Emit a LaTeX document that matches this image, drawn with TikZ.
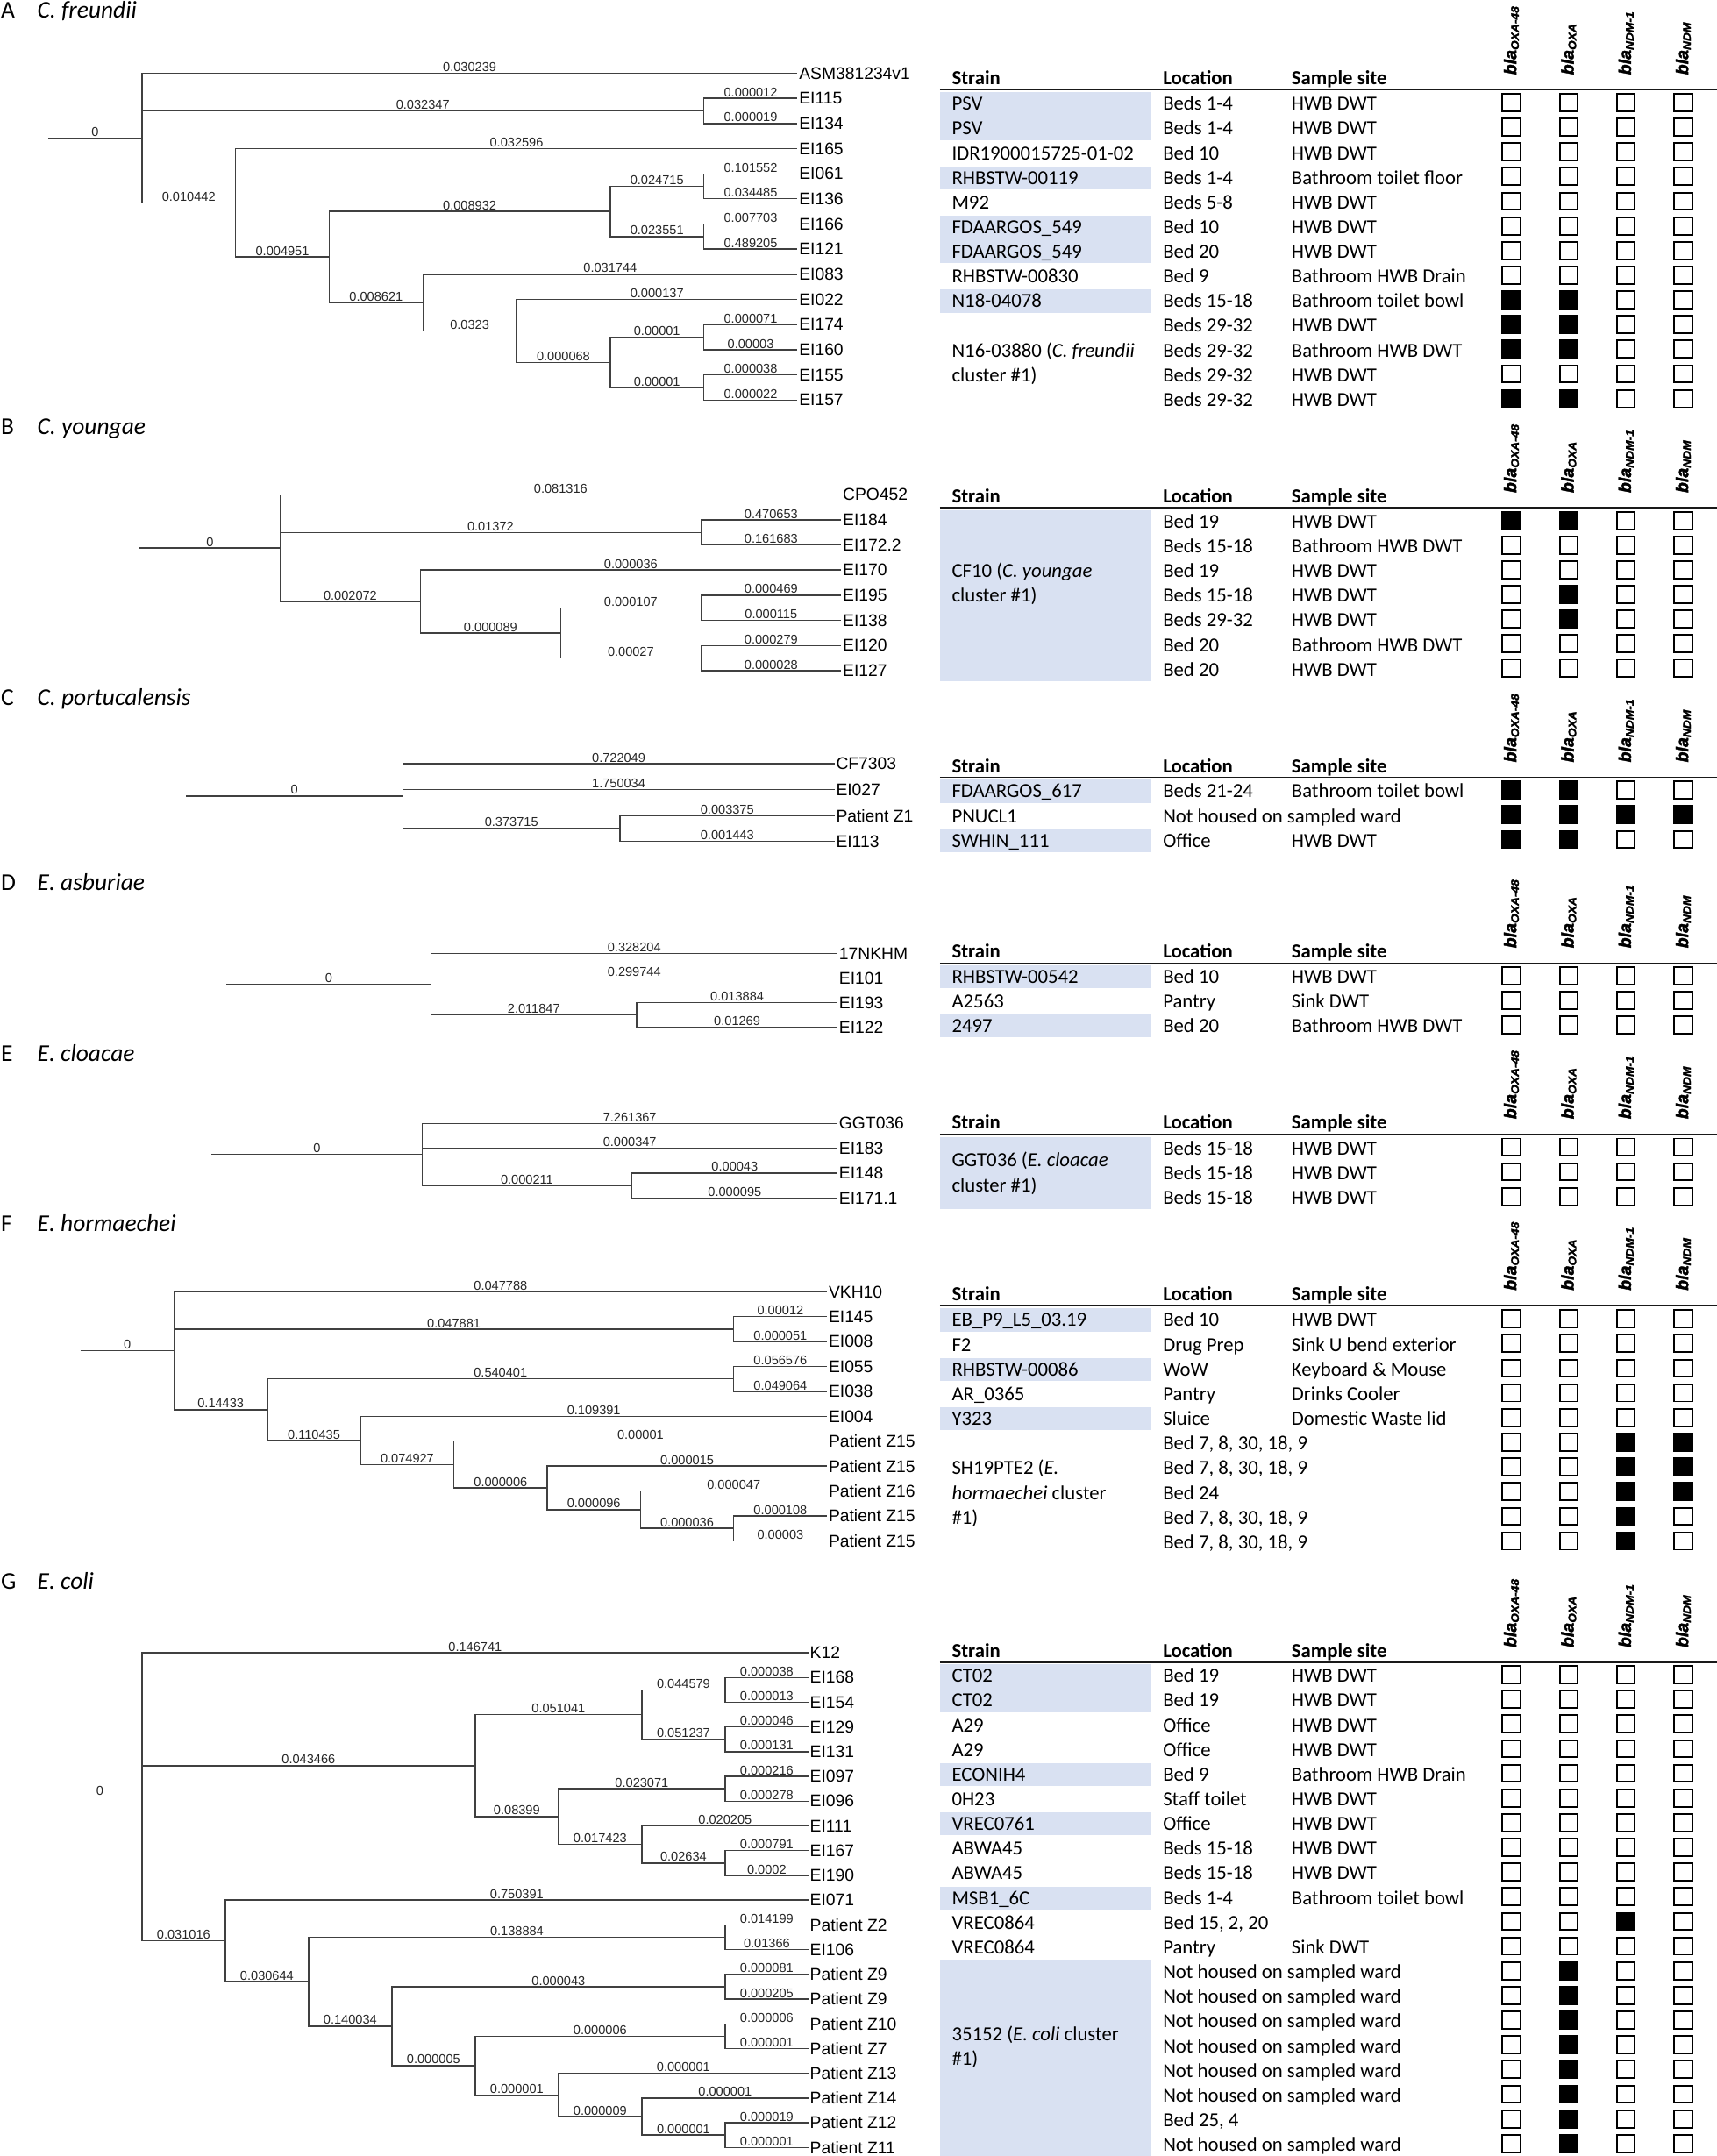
\documentclass[tikz,border=0pt]{standalone}
\usepackage{fontspec}
\setmainfont{Carlito}
\newfontfamily\treefont{Liberation Sans}
\newfontfamily\blafont{Liberation Sans}[BoldItalicFeatures={FakeBold=2}]
\usetikzlibrary{calc}
\definecolor{shadeblue}{RGB}{217,225,242}
\colorlet{c0}{white}
\colorlet{c1}{black}
\tikzset{
  br/.style={draw=black!75, line width=0.9pt},
  blab/.style={font=\treefont\fontsize{9.3}{9.3}\selectfont, text=black!85, inner sep=0.7pt, anchor=south},
  leaf/.style={font=\treefont\fontsize{12.3}{13}\selectfont, anchor=west, inner sep=1pt},
  ttext/.style={font=\fontsize{14.5}{15}\selectfont, anchor=base west, inner sep=0pt},
  thdr/.style={font=\bfseries\fontsize{14.5}{15}\selectfont, anchor=base west, inner sep=0pt},
  cbox/.style={draw=black, line width=1.25pt, minimum width=13pt, minimum height=12.6pt, inner sep=0pt},
  hrule/.style={draw=black!90, line width=1pt},
  blahd/.style={rotate=90, anchor=base west, inner sep=0pt, font=\blafont\bfseries\itshape},
  ptitle/.style={anchor=base west, inner sep=0pt, font=\fontsize{17.5}{18}\selectfont},
}
\newcommand\bla[1]{{\fontsize{12.5}{13}\selectfont bla}{\fontsize{8}{9}\selectfont\raisebox{-1.8pt}{\scalebox{1.1}[1]{#1}}}}
\newcommand\tedge[3]{\draw[br] (#1) |- (#2) node[blab,pos=0.75]{#3};}
\newcommand\lf[4]{\node[leaf] (#1) at (#2,#3) {#4};}
\newcommand\trow[6]{%
  \node[ttext] (#1s) at (692,#2+4.7) {#3};
  \node[ttext] (#1l) at (845.5,#2+4.7) {#4};
  \node[ttext] (#1t) at (939,#2+4.7) {#5};
  \foreach \f [count=\c] in {#6} {\node[cbox,fill=c\f] (#1b\c) at ({1099+41.67*(\c-1)},#2-0.9) {};}
}
\newcommand\thead[2]{%
  \node[thdr] (#1hs) at (692,#2-3.5) {Strain};
  \node[thdr] (#1hl) at (845.5,#2-3.5) {Location};
  \node[thdr] (#1ht) at (939,#2-3.5) {Sample site};
  \coordinate (#1ul) at (683.5,#2);
  \coordinate (#1ur) at (1248.5,#2);
  \draw[hrule] (#1ul) -- (#1ur);
  \node[blahd] (#1h1) at (1102.6,#2-10.7) {\bla{OXA-48}};
  \node[blahd] (#1h2) at (1144.3,#2-10.7) {\bla{OXA}};
  \node[blahd] (#1h3) at (1186,#2-10.7) {\bla{NDM-1}};
  \node[blahd] (#1h4) at (1227.6,#2-10.7) {\bla{NDM}};
}
\newcommand\shd[2]{\fill[shadeblue] (683.5,#1-8.4) rectangle (837,#2+8.4);}

\begin{document}
\begin{tikzpicture}[x=1pt,y=-1pt]
\useasboundingbox (0,0) rectangle (1248.5,1568);
\fill[white] (0,0) rectangle (1248.5,1568);

% ---------------- titles
\node[ptitle] (tA) at (0.5,13) {A};   \node[ptitle] (tAs) at (27,13) {\itshape C. freundii};
\node[ptitle] (tB) at (0.5,316) {B};  \node[ptitle] (tBs) at (27,316) {\itshape C. youngae};
\node[ptitle] (tC) at (0.5,512.7) {C};  \node[ptitle] (tCs) at (27,512.7) {\itshape C. portucalensis};
\node[ptitle] (tD) at (0.5,647.3) {D};  \node[ptitle] (tDs) at (27,647.3) {\itshape E. asburiae};
\node[ptitle] (tE) at (0.5,771.8) {E};  \node[ptitle] (tEs) at (27,771.8) {\itshape E. cloacae};
\node[ptitle] (tF) at (0.5,895.5) {F};  \node[ptitle] (tFs) at (27,895.5) {\itshape E. hormaechei};
\node[ptitle] (tG) at (0.5,1156) {G};   \node[ptitle] (tGs) at (27,1156) {\itshape E. coli};

% ---------------- tree A
\coordinate (aS) at (35,100.35);
\coordinate (aR) at (103.2,100.35);
\coordinate (a1) at (511.8,80.65);
\coordinate (a2) at (171.3,147.5);
\coordinate (a3) at (239.4,186.95);
\coordinate (a4) at (443.7,153.8);
\coordinate (a5) at (511.8,135.5);
\coordinate (a6) at (511.8,172.05);
\coordinate (a7) at (307.5,220.1);
\coordinate (a8) at (375.6,240.7);
\coordinate (a9) at (443.7,263.55);
\coordinate (a10) at (511.8,245.25);
\coordinate (a11) at (511.8,281.85);
\lf{aL0}{579.9}{53.2}{ASM381234v1}
\lf{aL1}{579.9}{71.5}{EI115}
\lf{aL2}{579.9}{89.8}{EI134}
\lf{aL3}{579.9}{108.1}{EI165}
\lf{aL4}{579.9}{126.4}{EI061}
\lf{aL5}{579.9}{144.6}{EI136}
\lf{aL6}{579.9}{162.9}{EI166}
\lf{aL7}{579.9}{181.2}{EI121}
\lf{aL8}{579.9}{199.5}{EI083}
\lf{aL9}{579.9}{217.8}{EI022}
\lf{aL10}{579.9}{236.1}{EI174}
\lf{aL11}{579.9}{254.4}{EI160}
\lf{aL12}{579.9}{272.7}{EI155}
\lf{aL13}{579.9}{291.0}{EI157}
\draw[br] (aS) -- (aR) node[blab,midway]{0};
\tedge{aR}{aL0.west}{0.030239}
\tedge{aR}{a1}{0.032347}
\tedge{a1}{aL1.west}{0.000012}
\tedge{a1}{aL2.west}{0.000019}
\tedge{aR}{a2}{0.010442}
\tedge{a2}{aL3.west}{0.032596}
\tedge{a2}{a3}{0.004951}
\tedge{a3}{a4}{0.008932}
\tedge{a4}{a5}{0.024715}
\tedge{a5}{aL4.west}{0.101552}
\tedge{a5}{aL5.west}{0.034485}
\tedge{a4}{a6}{0.023551}
\tedge{a6}{aL6.west}{0.007703}
\tedge{a6}{aL7.west}{0.489205}
\tedge{a3}{a7}{0.008621}
\tedge{a7}{aL8.west}{0.031744}
\tedge{a7}{a8}{0.0323}
\tedge{a8}{aL9.west}{0.000137}
\tedge{a8}{a9}{0.000068}
\tedge{a9}{a10}{0.00001}
\tedge{a10}{aL10.west}{0.000071}
\tedge{a10}{aL11.west}{0.00003}
\tedge{a9}{a11}{0.00001}
\tedge{a11}{aL12.west}{0.000038}
\tedge{a11}{aL13.west}{0.000022}

% ---------------- tree B
\coordinate (bS) at (101.7,398.65);
\coordinate (bR) at (203.7,398.65);
\coordinate (b1) at (509.7,387.25);
\coordinate (b2) at (305.7,437.5);
\coordinate (b3) at (407.7,460.35);
\coordinate (b4) at (509.7,442.05);
\coordinate (b5) at (509.7,478.65);
\lf{bL0}{611.7}{359.8}{CPO452}
\lf{bL1}{611.7}{378.1}{EI184}
\lf{bL2}{611.7}{396.4}{EI172.2}
\lf{bL3}{611.7}{414.6}{EI170}
\lf{bL4}{611.7}{432.9}{EI195}
\lf{bL5}{611.7}{451.2}{EI138}
\lf{bL6}{611.7}{469.5}{EI120}
\lf{bL7}{611.7}{487.8}{EI127}
\draw[br] (bS) -- (bR) node[blab,midway]{0};
\tedge{bR}{bL0.west}{0.081316}
\tedge{bR}{b1}{0.01372}
\tedge{b1}{bL1.west}{0.470653}
\tedge{b1}{bL2.west}{0.161683}
\tedge{bR}{b2}{0.002072}
\tedge{b2}{bL3.west}{0.000036}
\tedge{b2}{b3}{0.000089}
\tedge{b3}{b4}{0.000107}
\tedge{b4}{bL4.west}{0.000469}
\tedge{b4}{bL5.west}{0.000115}
\tedge{b3}{b5}{0.00027}
\tedge{b5}{bL6.west}{0.000279}
\tedge{b5}{bL7.west}{0.000028}

% ---------------- tree C
\coordinate (cS) at (135.2,578.95);
\coordinate (cR) at (293,578.95);
\coordinate (c1) at (450.8,602.5);
\lf{cL0}{606.8}{555.4}{CF7303}
\lf{cL1}{606.8}{574.2}{EI027}
\lf{cL2}{606.8}{593.1}{Patient Z1}
\lf{cL3}{606.8}{611.9}{EI113}
\draw[br] (cS) -- (cR) node[blab,midway]{0};
\tedge{cR}{cL0.west}{0.722049}
\tedge{cR}{cL1.west}{1.750034}
\tedge{cR}{c1}{0.373715}
\tedge{c1}{cL2.west}{0.003375}
\tedge{c1}{cL3.west}{0.001443}

% ---------------- tree D
\coordinate (dS) at (164.7,715.9);
\coordinate (dR) at (313.4,715.9);
\coordinate (d1) at (463,738.25);
\lf{dL0}{609}{693.6}{17NKHM}
\lf{dL1}{609}{711.4}{EI101}
\lf{dL2}{609}{729.3}{EI193}
\lf{dL3}{609}{747.2}{EI122}
\draw[br] (dS) -- (dR) node[blab,midway]{0};
\tedge{dR}{dL0.west}{0.328204}
\tedge{dR}{dL1.west}{0.299744}
\tedge{dR}{d1}{2.011847}
\tedge{d1}{dL2.west}{0.013884}
\tedge{d1}{dL3.west}{0.01269}

% ---------------- tree E
\coordinate (eS) at (153.9,839.6);
\coordinate (eR) at (306.9,839.6);
\coordinate (e1) at (459.5,862.2);
\lf{eL0}{609}{817}{GGT036}
\lf{eL1}{609}{835.2}{EI183}
\lf{eL2}{609}{853.1}{EI148}
\lf{eL3}{609}{871.3}{EI171.1}
\draw[br] (eS) -- (eR) node[blab,midway]{0};
\tedge{eR}{eL0.west}{7.261367}
\tedge{eR}{eL1.west}{0.000347}
\tedge{eR}{e1}{0.000211}
\tedge{e1}{eL2.west}{0.00043}
\tedge{e1}{eL3.west}{0.000095}

% ---------------- tree F
\coordinate (fS) at (58.5,982.4);
\coordinate (fR) at (126.6,982.4);
\coordinate (f1) at (533.5,966.65);
\coordinate (f2) at (194.4,1025.25);
\coordinate (f3) at (533.5,1002.85);
\coordinate (f4) at (262.2,1047.64);
\coordinate (f5) at (330.1,1065.17);
\coordinate (f6) at (397.9,1082.14);
\coordinate (f7) at (465.7,1097.98);
\coordinate (f8) at (533.5,1111.55);
\lf{fL0}{601.4}{939.5}{VKH10}
\lf{fL1}{601.4}{957.61}{EI145}
\lf{fL2}{601.4}{975.72}{EI008}
\lf{fL3}{601.4}{993.83}{EI055}
\lf{fL4}{601.4}{1011.94}{EI038}
\lf{fL5}{601.4}{1030.05}{EI004}
\lf{fL6}{601.4}{1048.16}{Patient Z15}
\lf{fL7}{601.4}{1066.27}{Patient Z15}
\lf{fL8}{601.4}{1084.38}{Patient Z16}
\lf{fL9}{601.4}{1102.49}{Patient Z15}
\lf{fL10}{601.4}{1120.6}{Patient Z15}
\draw[br] (fS) -- (fR) node[blab,midway]{0};
\tedge{fR}{fL0.west}{0.047788}
\tedge{fR}{f1}{0.047881}
\tedge{f1}{fL1.west}{0.00012}
\tedge{f1}{fL2.west}{0.000051}
\tedge{fR}{f2}{0.14433}
\tedge{f2}{f3}{0.540401}
\tedge{f3}{fL3.west}{0.056576}
\tedge{f3}{fL4.west}{0.049064}
\tedge{f2}{f4}{0.110435}
\tedge{f4}{fL5.west}{0.109391}
\tedge{f4}{f5}{0.074927}
\tedge{f5}{fL6.west}{0.00001}
\tedge{f5}{f6}{0.000006}
\tedge{f6}{fL7.west}{0.000015}
\tedge{f6}{f7}{0.000096}
\tedge{f7}{fL8.west}{0.000047}
\tedge{f7}{f8}{0.000036}
\tedge{f8}{fL9.west}{0.000108}
\tedge{f8}{fL10.west}{0.00003}

% ---------------- tree G
\coordinate (gS) at (42,1306.8);
\coordinate (gR) at (103.2,1306.8);
\coordinate (g1) at (345.5,1284.1);
\coordinate (g2) at (466.7,1247.0);
\coordinate (g3) at (527.3,1229.0);
\coordinate (g4) at (527.3,1265.0);
\coordinate (g5) at (406.1,1321.15);
\coordinate (g6) at (527.3,1300.9);
\coordinate (g7) at (466.7,1341.4);
\coordinate (g8) at (527.3,1354.9);
\coordinate (g9) at (163.8,1411.55);
\coordinate (g10) at (224.4,1441.2);
\coordinate (g11) at (527.3,1408.9);
\coordinate (g12) at (284.9,1473.55);
\coordinate (g13) at (527.3,1444.9);
\coordinate (g14) at (345.5,1502.2);
\coordinate (g15) at (527.3,1480.85);
\coordinate (g16) at (406.1,1523.55);
\coordinate (g17) at (466.7,1539.3);
\coordinate (g18) at (527.3,1552.8);
\lf{gL0}{587.8}{1202}{K12}
\lf{gL1}{587.8}{1219.99}{EI168}
\lf{gL2}{587.8}{1237.98}{EI154}
\lf{gL3}{587.8}{1255.97}{EI129}
\lf{gL4}{587.8}{1273.96}{EI131}
\lf{gL5}{587.8}{1291.95}{EI097}
\lf{gL6}{587.8}{1309.94}{EI096}
\lf{gL7}{587.8}{1327.93}{EI111}
\lf{gL8}{587.8}{1345.92}{EI167}
\lf{gL9}{587.8}{1363.91}{EI190}
\lf{gL10}{587.8}{1381.9}{EI071}
\lf{gL11}{587.8}{1399.89}{Patient Z2}
\lf{gL12}{587.8}{1417.88}{EI106}
\lf{gL13}{587.8}{1435.87}{Patient Z9}
\lf{gL14}{587.8}{1453.86}{Patient Z9}
\lf{gL15}{587.8}{1471.85}{Patient Z10}
\lf{gL16}{587.8}{1489.84}{Patient Z7}
\lf{gL17}{587.8}{1507.83}{Patient Z13}
\lf{gL18}{587.8}{1525.82}{Patient Z14}
\lf{gL19}{587.8}{1543.81}{Patient Z12}
\lf{gL20}{587.8}{1561.8}{Patient Z11}
\draw[br] (gS) -- (gR) node[blab,midway]{0};
\tedge{gR}{gL0.west}{0.146741}
\tedge{gR}{g1}{0.043466}
\tedge{g1}{g2}{0.051041}
\tedge{g2}{g3}{0.044579}
\tedge{g3}{gL1.west}{0.000038}
\tedge{g3}{gL2.west}{0.000013}
\tedge{g2}{g4}{0.051237}
\tedge{g4}{gL3.west}{0.000046}
\tedge{g4}{gL4.west}{0.000131}
\tedge{g1}{g5}{0.08399}
\tedge{g5}{g6}{0.023071}
\tedge{g6}{gL5.west}{0.000216}
\tedge{g6}{gL6.west}{0.000278}
\tedge{g5}{g7}{0.017423}
\tedge{g7}{gL7.west}{0.020205}
\tedge{g7}{g8}{0.02634}
\tedge{g8}{gL8.west}{0.000791}
\tedge{g8}{gL9.west}{0.0002}
\tedge{gR}{g9}{0.031016}
\tedge{g9}{gL10.west}{0.750391}
\tedge{g9}{g10}{0.030644}
\tedge{g10}{g11}{0.138884}
\tedge{g11}{gL11.west}{0.014199}
\tedge{g11}{gL12.west}{0.01366}
\tedge{g10}{g12}{0.140034}
\tedge{g12}{g13}{0.000043}
\tedge{g13}{gL13.west}{0.000081}
\tedge{g13}{gL14.west}{0.000205}
\tedge{g12}{g14}{0.000005}
\tedge{g14}{g15}{0.000006}
\tedge{g15}{gL15.west}{0.000006}
\tedge{g15}{gL16.west}{0.000001}
\tedge{g14}{g16}{0.000001}
\tedge{g16}{gL17.west}{0.000001}
\tedge{g16}{g17}{0.000009}
\tedge{g17}{gL18.west}{0.000001}
\tedge{g17}{g18}{0.000001}
\tedge{g18}{gL19.west}{0.000019}
\tedge{g18}{gL20.west}{0.000001}

% ---------------- table A
\shd{75.5}{93.44}\shd{129.32}{129.32}\shd{165.2}{183.14}\shd{219.02}{219.02}
\thead{A}{65.3}
\trow{A0}{75.5}{PSV}{Beds 1-4}{HWB DWT}{0,0,0,0}
\trow{A1}{93.44}{PSV}{Beds 1-4}{HWB DWT}{0,0,0,0}
\trow{A2}{111.38}{IDR1900015725-01-02}{Bed 10}{HWB DWT}{0,0,0,0}
\trow{A3}{129.32}{RHBSTW-00119}{Beds 1-4}{Bathroom toilet floor}{0,0,0,0}
\trow{A4}{147.26}{M92}{Beds 5-8}{HWB DWT}{0,0,0,0}
\trow{A5}{165.2}{FDAARGOS\_549}{Bed 10}{HWB DWT}{0,0,0,0}
\trow{A6}{183.14}{FDAARGOS\_549}{Bed 20}{HWB DWT}{0,0,0,0}
\trow{A7}{201.08}{RHBSTW-00830}{Bed 9}{Bathroom HWB Drain}{0,0,0,0}
\trow{A8}{219.02}{N18-04078}{Beds 15-18}{Bathroom toilet bowl}{1,1,0,0}
\trow{A9}{236.96}{}{Beds 29-32}{HWB DWT}{1,1,0,0}
\trow{A10}{254.9}{N16-03880 (\textit{C. freundii}}{Beds 29-32}{Bathroom HWB DWT}{1,1,0,0}
\trow{A11}{272.84}{cluster \#1)}{Beds 29-32}{HWB DWT}{0,0,0,0}
\trow{A12}{290.78}{}{Beds 29-32}{HWB DWT}{1,1,0,0}

% ---------------- table B
\shd{379.5}{487.02}
\thead{B}{369.3}
\trow{B0}{379.5}{}{Bed 19}{HWB DWT}{1,1,0,0}
\trow{B1}{397.42}{}{Beds 15-18}{Bathroom HWB DWT}{0,0,0,0}
\trow{B2}{415.34}{CF10 (\textit{C. youngae}}{Bed 19}{HWB DWT}{0,0,0,0}
\trow{B3}{433.26}{cluster \#1)}{Beds 15-18}{HWB DWT}{0,1,0,0}
\trow{B4}{451.18}{}{Beds 29-32}{HWB DWT}{0,1,0,0}
\trow{B5}{469.1}{}{Bed 20}{Bathroom HWB DWT}{0,0,0,0}
\trow{B6}{487.02}{}{Bed 20}{HWB DWT}{0,0,0,0}

% ---------------- table C
\shd{575.5}{575.5}\shd{611.4}{611.4}
\thead{C}{565.3}
\trow{C0}{575.5}{FDAARGOS\_617}{Beds 21-24}{Bathroom toilet bowl}{1,1,0,0}
\trow{C1}{593.45}{PNUCL1}{Not housed on sampled ward}{}{1,1,1,1}
\trow{C2}{611.4}{SWHIN\_111}{Office}{HWB DWT}{1,1,0,0}

% ---------------- table D
\shd{710.4}{710.4}\shd{746.2}{746.2}
\thead{D}{700.4}
\trow{D0}{710.4}{RHBSTW-00542}{Bed 10}{HWB DWT}{0,0,0,0}
\trow{D1}{728.3}{A2563}{Pantry}{Sink DWT}{0,0,0,0}
\trow{D2}{746.2}{2497}{Bed 20}{Bathroom HWB DWT}{0,0,0,0}

% ---------------- table E
\shd{835.2}{871.1}
\thead{E}{824.7}
\trow{E0}{835.2}{}{Beds 15-18}{HWB DWT}{0,0,0,0}
\trow{E1}{853.15}{}{Beds 15-18}{HWB DWT}{0,0,0,0}
\trow{E2}{871.1}{}{Beds 15-18}{HWB DWT}{0,0,0,0}
\node[ttext] (Es1) at (692,848.5) {GGT036 (\textit{E. cloacae}};
\node[ttext] (Es2) at (692,866.7) {cluster \#1)};

% ---------------- table F
\shd{960}{960}\shd{995.92}{995.92}\shd{1031.84}{1031.84}
\thead{F}{949.4}
\trow{F0}{960}{EB\_P9\_L5\_03.19}{Bed 10}{HWB DWT}{0,0,0,0}
\trow{F1}{977.96}{F2}{Drug Prep}{Sink U bend exterior}{0,0,0,0}
\trow{F2}{995.92}{RHBSTW-00086}{WoW}{Keyboard \& Mouse}{0,0,0,0}
\trow{F3}{1013.88}{AR\_0365}{Pantry}{Drinks Cooler}{0,0,0,0}
\trow{F4}{1031.84}{Y323}{Sluice}{Domestic Waste lid}{0,0,0,0}
\trow{F5}{1049.8}{}{Bed 7, 8, 30, 18, 9}{}{0,0,1,1}
\trow{F6}{1067.76}{SH19PTE2 (\textit{E.}}{Bed 7, 8, 30, 18, 9}{}{0,0,1,1}
\trow{F7}{1085.72}{\textit{hormaechei} cluster}{Bed 24}{}{0,0,1,1}
\trow{F8}{1103.68}{\#1)}{Bed 7, 8, 30, 18, 9}{}{0,0,1,0}
\trow{F9}{1121.64}{}{Bed 7, 8, 30, 18, 9}{}{0,0,1,0}

% ---------------- table G
\shd{1218.8}{1236.75}\shd{1290.6}{1290.6}\shd{1326.5}{1326.5}\shd{1380.35}{1380.35}\shd{1434.2}{1559.85}
\thead{G}{1209.1}
\trow{G0}{1218.8}{CT02}{Bed 19}{HWB DWT}{0,0,0,0}
\trow{G1}{1236.75}{CT02}{Bed 19}{HWB DWT}{0,0,0,0}
\trow{G2}{1254.7}{A29}{Office}{HWB DWT}{0,0,0,0}
\trow{G3}{1272.65}{A29}{Office}{HWB DWT}{0,0,0,0}
\trow{G4}{1290.6}{ECONIH4}{Bed 9}{Bathroom HWB Drain}{0,0,0,0}
\trow{G5}{1308.55}{0H23}{Staff toilet}{HWB DWT}{0,0,0,0}
\trow{G6}{1326.5}{VREC0761}{Office}{HWB DWT}{0,0,0,0}
\trow{G7}{1344.45}{ABWA45}{Beds 15-18}{HWB DWT}{0,0,0,0}
\trow{G8}{1362.4}{ABWA45}{Beds 15-18}{HWB DWT}{0,0,0,0}
\trow{G9}{1380.35}{MSB1\_6C}{Beds 1-4}{Bathroom toilet bowl}{0,0,0,0}
\trow{G10}{1398.3}{VREC0864}{Bed 15, 2, 20}{}{0,0,1,0}
\trow{G11}{1416.25}{VREC0864}{Pantry}{Sink DWT}{0,0,0,0}
\trow{G12}{1434.2}{}{Not housed on sampled ward}{}{0,1,0,0}
\trow{G13}{1452.15}{}{Not housed on sampled ward}{}{0,1,0,0}
\trow{G14}{1470.1}{}{Not housed on sampled ward}{}{0,1,0,0}
\trow{G15}{1488.05}{}{Not housed on sampled ward}{}{0,1,0,0}
\trow{G16}{1506.0}{}{Not housed on sampled ward}{}{0,1,0,0}
\trow{G17}{1523.95}{}{Not housed on sampled ward}{}{0,1,0,0}
\trow{G18}{1541.9}{}{Bed 25, 4}{}{0,1,0,0}
\trow{G19}{1559.85}{}{Not housed on sampled ward}{}{0,1,0,0}
\node[ttext] (Gs1) at (692,1483.9) {35152 (\textit{E. coli} cluster};
\node[ttext] (Gs2) at (692,1501.9) {\#1)};
\end{tikzpicture}
\end{document}
